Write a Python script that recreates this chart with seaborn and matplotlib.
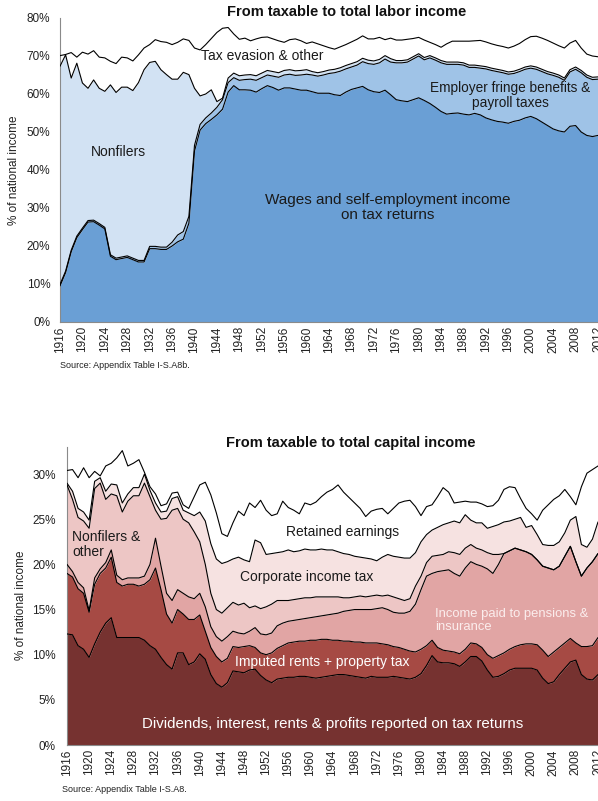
import numpy as np
import matplotlib
matplotlib.use("Agg")
import matplotlib.pyplot as plt
import seaborn as sns
from matplotlib.ticker import FuncFormatter

years = list(range(1916, 2013))

# ---- Labor panel: cumulative boundaries (% of national income) ----
labor_wages = [9.5, 13.0, 18.5, 22.2, 24.3, 26.3, 26.4, 25.5, 24.5, 17.3,
               16.4, 16.7, 17.0, 16.4, 15.8, 15.8, 19.3, 19.3, 19.1, 19.1,
               20.0, 21.1, 21.8, 26.0, 45.0, 50.5, 52.2, 53.3, 54.5, 56.0,
               60.5, 62.2, 61.1, 61.1, 61.0, 60.5, 61.4, 62.2, 61.7, 61.0,
               61.6, 61.6, 61.3, 61.0, 61.0, 60.6, 60.2, 60.2, 60.2, 59.8,
               59.6, 60.5, 61.2, 61.6, 62.0, 61.1, 60.6, 60.4, 61.0, 59.8,
               58.5, 58.2, 58.0, 58.5, 59.0, 58.3, 57.5, 56.5, 55.4, 54.7,
               54.9, 55.0, 54.7, 54.5, 54.9, 54.5, 53.7, 53.2, 52.8, 52.6,
               52.3, 52.8, 53.1, 53.7, 54.1, 53.5, 52.6, 51.7, 50.8, 50.3,
               50.0, 51.5, 51.7, 50.0, 49.1, 48.8, 49.1]
labor_fringe = [9.9, 13.4, 18.9, 22.6, 24.7, 26.7, 26.8, 25.9, 24.9, 17.7,
                16.8, 17.1, 17.4, 16.8, 16.2, 16.2, 19.9, 19.9, 19.7, 19.7,
                21.0, 22.9, 23.8, 27.8, 46.5, 52.0, 53.7, 55.0, 56.5, 58.5,
                63.0, 64.3, 63.6, 63.8, 63.9, 63.6, 64.3, 65.0, 64.7, 64.4,
                65.0, 65.2, 64.9, 65.0, 65.2, 65.0, 64.7, 65.0, 65.4, 65.6,
                66.0, 66.6, 67.1, 67.6, 68.5, 68.0, 67.8, 68.2, 69.2, 68.4,
                68.2, 68.2, 68.4, 69.2, 70.0, 69.0, 69.5, 68.9, 68.2, 67.8,
                67.8, 67.8, 67.6, 67.0, 67.0, 66.8, 66.6, 66.2, 65.9, 65.6,
                65.2, 65.4, 65.9, 66.5, 66.8, 66.5, 65.9, 65.3, 64.9, 64.4,
                63.6, 65.8, 66.5, 65.6, 64.4, 63.8, 63.9]
labor_nonfilers = [67.3, 70.3, 64.2, 68.1, 62.9, 61.5, 63.7, 61.5, 60.7, 62.4,
                   60.4, 61.8, 61.8, 60.9, 63.0, 66.4, 68.3, 68.6, 66.4, 65.1,
                   63.9, 63.9, 65.7, 65.1, 61.5, 59.5, 60.0, 61.1, 58.0, 58.9,
                   64.2, 65.5, 64.8, 65.0, 65.1, 64.8, 65.5, 66.2, 65.9, 65.6,
                   66.2, 66.4, 66.1, 66.2, 66.4, 65.9, 65.6, 65.9, 66.3, 66.5,
                   66.9, 67.5, 68.0, 68.5, 69.4, 68.9, 68.7, 69.1, 70.1, 69.3,
                   68.8, 68.8, 69.0, 69.8, 70.6, 69.6, 70.1, 69.5, 68.8, 68.4,
                   68.4, 68.4, 68.2, 67.6, 67.6, 67.4, 67.2, 66.8, 66.5, 66.2,
                   65.8, 66.0, 66.5, 67.1, 67.4, 67.1, 66.5, 65.9, 65.5, 65.0,
                   64.2, 66.4, 67.1, 66.2, 65.0, 64.4, 64.5]
labor_total = [70.1, 70.4, 70.9, 69.7, 71.0, 70.5, 71.4, 69.7, 69.5, 68.6,
               68.0, 69.7, 69.5, 68.7, 70.3, 72.1, 73.0, 74.3, 73.8, 73.6,
               73.0, 73.6, 74.5, 74.1, 72.1, 71.6, 73.0, 74.6, 76.2, 77.3,
               77.5, 75.8, 74.4, 74.7, 74.0, 74.5, 74.9, 75.0, 74.5, 74.0,
               73.6, 74.3, 74.5, 74.0, 73.3, 73.7, 73.2, 72.7, 72.2, 71.8,
               72.4, 73.0, 73.7, 74.4, 75.3, 74.5, 74.5, 74.9, 74.3, 74.7,
               74.2, 74.2, 74.4, 74.6, 74.9, 74.2, 73.6, 73.0, 72.3, 73.2,
               73.9, 73.9, 73.9, 73.9, 74.0, 74.1, 73.7, 73.2, 72.8, 72.5,
               72.1, 72.6, 73.3, 74.3, 75.1, 75.2, 74.7, 74.1, 73.4, 72.7,
               72.1, 73.4, 74.1, 72.1, 70.5, 70.0, 69.8]

# ---- Capital panel: cumulative boundaries (% of national income) ----
cap_dividends = [12.3, 12.2, 11.0, 10.6, 9.7, 11.2, 12.5, 13.5, 14.1, 11.9,
                 11.9, 11.9, 11.9, 11.9, 11.6, 11.0, 10.6, 9.7, 8.9, 8.4,
                 10.2, 10.2, 8.9, 9.2, 10.1, 9.5, 7.8, 6.8, 6.4, 6.9,
                 8.2, 8.1, 8.0, 8.3, 8.4, 7.7, 7.2, 6.9, 7.3, 7.4,
                 7.5, 7.5, 7.6, 7.6, 7.5, 7.4, 7.5, 7.6, 7.7, 7.8,
                 7.8, 7.7, 7.6, 7.5, 7.4, 7.6, 7.5, 7.5, 7.5, 7.6,
                 7.5, 7.4, 7.3, 7.5, 7.9, 8.8, 9.9, 9.2, 9.1, 9.1,
                 9.0, 8.7, 9.2, 9.8, 9.8, 9.3, 8.3, 7.5, 7.6, 7.9,
                 8.3, 8.5, 8.5, 8.5, 8.5, 8.3, 7.4, 6.8, 7.0, 7.8,
                 8.5, 9.2, 9.4, 7.8, 7.3, 7.2, 7.8]
cap_imputed = [19.0, 18.6, 17.3, 16.8, 14.7, 17.8, 19.0, 19.6, 20.8, 18.0,
               17.6, 17.8, 17.8, 17.6, 17.8, 18.3, 19.6, 17.2, 14.5, 13.5,
               15.0, 14.5, 13.9, 13.9, 14.4, 12.6, 10.8, 9.8, 9.2, 9.6,
               10.9, 10.8, 10.9, 11.0, 10.8, 10.2, 10.0, 10.2, 10.7, 11.0,
               11.3, 11.4, 11.5, 11.5, 11.6, 11.6, 11.7, 11.7, 11.6, 11.6,
               11.5, 11.5, 11.4, 11.4, 11.3, 11.3, 11.3, 11.2, 11.1, 10.9,
               10.8, 10.6, 10.4, 10.3, 10.6, 11.0, 11.6, 10.8, 10.5, 10.4,
               10.3, 10.1, 10.6, 11.3, 11.2, 10.8, 10.0, 9.6, 9.9, 10.2,
               10.6, 10.9, 11.1, 11.2, 11.2, 11.1, 10.5, 9.8, 10.3, 10.8,
               11.3, 11.8, 11.3, 10.9, 10.9, 11.0, 11.9]
cap_pensions = [20.0, 19.2, 18.0, 17.4, 14.9, 18.5, 19.5, 20.2, 21.6, 18.8,
                18.3, 18.5, 18.5, 18.5, 18.7, 20.0, 22.9, 19.8, 16.8, 16.0,
                17.2, 16.8, 16.4, 16.2, 16.8, 15.3, 13.1, 12.0, 11.5, 12.0,
                12.6, 12.4, 12.3, 12.6, 13.0, 12.3, 12.2, 12.4, 13.2, 13.5,
                13.7, 13.8, 13.9, 14.0, 14.1, 14.2, 14.3, 14.4, 14.5, 14.6,
                14.8, 14.9, 15.0, 15.0, 15.0, 15.0, 15.1, 15.2, 15.0, 14.7,
                14.6, 14.6, 14.8, 15.6, 17.2, 18.7, 19.0, 19.2, 19.3, 19.4,
                19.0, 18.7, 19.6, 20.3, 20.0, 19.8, 19.5, 19.0, 20.0, 21.2,
                21.5, 21.8, 21.6, 21.4, 21.1, 20.5, 19.8, 19.6, 19.4, 19.8,
                20.9, 22.0, 20.3, 18.7, 19.6, 20.3, 21.2]
cap_nonfilers = [28.8, 27.2, 25.2, 24.8, 24.0, 28.4, 29.0, 27.2, 27.8, 27.6,
                 25.8, 27.0, 27.6, 27.6, 29.0, 27.5, 26.0, 25.0, 25.1, 26.0,
                 26.2, 25.0, 24.6, 23.6, 22.5, 20.0, 16.8, 15.0, 14.6, 15.2,
                 15.8, 15.5, 15.7, 15.2, 15.4, 15.1, 15.3, 15.6, 16.0, 16.0,
                 16.0, 16.1, 16.2, 16.3, 16.3, 16.4, 16.4, 16.4, 16.4, 16.4,
                 16.3, 16.3, 16.4, 16.5, 16.4, 16.5, 16.6, 16.5, 16.6, 16.4,
                 16.2, 16.0, 16.2, 17.6, 18.7, 20.2, 20.9, 21.0, 21.1, 21.4,
                 21.3, 21.1, 21.8, 22.2, 21.8, 21.6, 21.3, 21.1, 21.1, 21.2,
                 21.5, 21.8, 21.6, 21.4, 21.1, 20.5, 19.8, 19.6, 19.4, 19.8,
                 20.9, 22.0, 20.3, 18.7, 19.6, 20.3, 21.2]
cap_corporate = [29.0, 28.1, 26.2, 25.8, 24.9, 29.2, 29.6, 28.1, 28.9, 28.8,
                 26.8, 27.8, 28.5, 28.5, 30.0, 28.2, 26.8, 25.8, 25.9, 27.3,
                 27.5, 26.0, 25.7, 25.4, 25.8, 24.8, 22.3, 20.6, 20.1, 20.3,
                 20.6, 20.8, 20.5, 20.3, 22.7, 22.4, 21.1, 21.2, 21.3, 21.4,
                 21.6, 21.4, 21.5, 21.7, 21.6, 21.6, 21.7, 21.6, 21.6, 21.4,
                 21.2, 21.1, 20.9, 20.8, 20.7, 20.6, 20.4, 20.8, 21.1, 20.9,
                 20.8, 20.7, 20.7, 21.3, 22.5, 23.3, 23.8, 24.1, 24.4, 24.6,
                 24.8, 24.6, 25.5, 24.9, 24.6, 24.6, 24.0, 24.2, 24.4, 24.7,
                 24.8, 25.0, 25.2, 24.1, 24.3, 23.3, 22.2, 22.1, 22.1, 22.5,
                 23.5, 24.9, 25.3, 22.2, 21.9, 22.8, 24.7]
cap_total = [30.4, 30.5, 29.6, 30.7, 29.6, 30.3, 29.8, 30.9, 31.2, 31.8,
             32.6, 30.9, 31.2, 31.6, 30.2, 28.6, 27.8, 26.5, 26.7, 27.9,
             28.0, 26.6, 26.2, 27.5, 28.8, 29.1, 27.7, 25.7, 23.4, 23.1,
             24.6, 25.9, 25.4, 26.8, 26.3, 27.1, 26.0, 25.4, 25.6, 27.0,
             26.3, 26.0, 25.6, 26.8, 26.6, 26.9, 27.5, 28.0, 28.3, 28.8,
             28.0, 27.4, 26.8, 26.2, 25.3, 25.9, 26.1, 26.2, 25.6, 26.2,
             26.8, 27.0, 27.1, 26.4, 25.4, 26.4, 26.6, 27.5, 28.5, 28.0,
             26.8, 26.9, 27.0, 26.9, 26.9, 26.7, 26.4, 26.5, 27.1, 28.3,
             28.6, 28.5, 27.3, 26.2, 25.6, 24.9, 26.0, 26.6, 27.2, 27.6,
             28.3, 27.5, 26.6, 28.6, 30.1, 30.5, 30.9]

year_ticks = list(range(1916, 2013, 4))
labor_colors = ["#6A9FD5", "#9FC3E7", "#D2E2F3", "#FFFFFF"]
capital_colors = ["#763230", "#A64A44", "#E1A5A4", "#EDC6C5", "#F6E2E1", "#FFFFFF"]

sns.set_style("white")
plt.rcParams['font.family'] = ['Liberation Sans', 'DejaVu Sans']

W, H = 598, 801
fig = plt.figure(figsize=(W / 100, H / 100), dpi=100)
ax1 = fig.add_axes([60 / W, 1 - 322 / H, 538 / W, 304 / H])
ax2 = fig.add_axes([67 / W, 1 - 745 / H, 531 / W, 298 / H])


def draw_stack(ax, tops, colors):
    prev = np.zeros(len(years))
    for top, col in zip(tops, colors):
        top = np.asarray(top, dtype=float)
        ax.fill_between(years, prev, top, color=col, linewidth=0, zorder=1)
        prev = top
    for top in tops:
        sns.lineplot(x=years, y=top, ax=ax, color="black", linewidth=0.8,
                     zorder=3, legend=False, estimator=None)


def style_axis(ax, ymax, ystep, ytop_tick, ypad):
    ax.set_xlim(1916, 2012)
    ax.set_ylim(0, ymax)
    ax.set_yticks(np.arange(0, ytop_tick + 0.1, ystep))
    ax.yaxis.set_major_formatter(FuncFormatter(lambda v, p: f"{v:.0f}%"))
    ax.set_xticks(year_ticks)
    ax.set_xticklabels([str(y) for y in year_ticks], rotation=90)
    ax.tick_params(axis="both", length=0, labelsize=8.5, colors="#222222")
    ax.tick_params(axis="y", pad=ypad)
    ax.tick_params(axis="x", pad=3)
    for s in ["top", "right"]:
        ax.spines[s].set_visible(False)
    for s in ["left", "bottom"]:
        ax.spines[s].set_color("#8a8a8a")
        ax.spines[s].set_linewidth(0.8)
    ax.set_xlabel("")
    ax.set_ylabel("")
    ax.grid(False)


draw_stack(ax1, [labor_wages, labor_fringe, labor_nonfilers, labor_total], labor_colors)
style_axis(ax1, 80, 10, 80, 7)

draw_stack(ax2, [cap_dividends, cap_imputed, cap_pensions, cap_nonfilers,
                 cap_corporate, cap_total], capital_colors)
style_axis(ax2, 33, 5, 30, 8)

# Titles
fig.text(347 / W, 1 - 12 / H, "From taxable to total labor income", ha="center", va="center",
         fontsize=10.5, fontweight="bold", color="#111111")
fig.text(351 / W, 1 - 443 / H, "From taxable to total capital income", ha="center", va="center",
         fontsize=10.5, fontweight="bold", color="#111111")

# y labels
fig.text(14 / W, 1 - 170 / H, "% of national income", rotation=90, ha="center", va="center",
         fontsize=8.5, color="#222222")
fig.text(21 / W, 1 - 605 / H, "% of national income", rotation=90, ha="center", va="center",
         fontsize=8.5, color="#222222")

# Sources
fig.text(60 / W, 1 - 366 / H, "Source: Appendix Table I-S.A8b.", ha="left", va="center",
         fontsize=6.5, color="#222222")
fig.text(62 / W, 1 - 790 / H, "Source: Appendix Table I-S.A8.", ha="left", va="center",
         fontsize=6.5, color="#222222")

# Labor annotations
ax1.text(1926.5, 44.8, "Nonfilers", ha="center", va="center", fontsize=10, color="#1a1a1a")
ax1.text(1952.1, 70.1, "Tax evasion & other", ha="center", va="center", fontsize=10, color="#1a1a1a")
ax1.text(1996.4, 59.6, "Employer fringe benefits &\npayroll taxes", ha="center", va="center",
         fontsize=9.8, color="#1a1a1a", linespacing=1.1)
ax1.text(1974.5, 30.1, "Wages and self-employment income\non tax returns", ha="center",
         va="center", fontsize=11, color="#1a1a1a", linespacing=1.1)

# Capital annotations
ax2.text(1916.9, 22.2, "Nonfilers &\nother", ha="left", va="center", fontsize=10,
         color="#1a1a1a", linespacing=1.1)
ax2.text(1965.9, 23.6, "Retained earnings", ha="center", va="center", fontsize=10, color="#1a1a1a")
ax2.text(1959.4, 18.6, "Corporate income tax", ha="center", va="center", fontsize=10, color="#1a1a1a")
ax2.text(1982.6, 13.8, "Income paid to pensions &\ninsurance", ha="left", va="center",
         fontsize=9.4, color="#FBEDED", linespacing=1.1)
ax2.text(1962.1, 9.2, "Imputed rents + property tax", ha="center", va="center", fontsize=10,
         color="#FFFFFF")
ax2.text(1964.1, 2.3, "Dividends, interest, rents & profits reported on tax returns", ha="center",
         va="center", fontsize=10.8, color="#FFFFFF")

fig.savefig("out.png", dpi=100)
